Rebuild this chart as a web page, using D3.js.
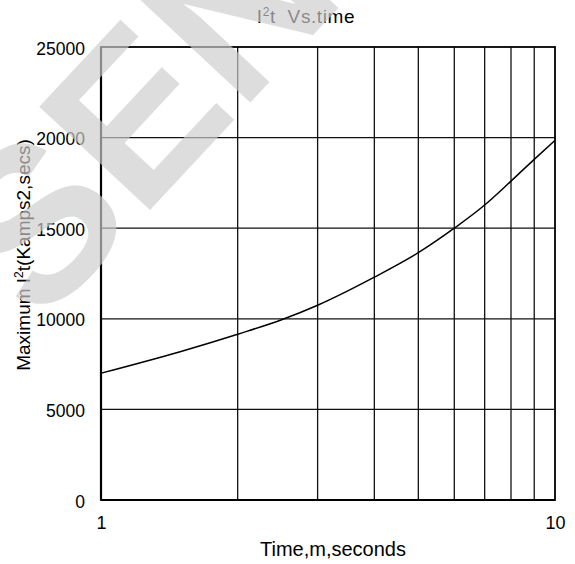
<!DOCTYPE html>
<html><head><meta charset="utf-8">
<script src="https://cdn.jsdelivr.net/npm/d3@7"></script>
<style>body{margin:0;background:#fff} svg{display:block} text{font-family:"Liberation Sans",Arial,sans-serif; white-space:pre}</style>
</head><body><svg id="c" width="575" height="564"></svg>
<script>
const timeSec = [1, 1.5, 2, 2.5, 3, 4, 5, 6, 7, 8, 9, 10];
const maxI2t = [7000, 8200, 9150, 9950, 10750, 12300, 13650, 15000, 16280, 17600, 18800, 19850];
const xTickLabels = [1, 10];
const xGridValues = [2, 3, 4, 5, 6, 7, 8, 9];
const yTickValues = [0, 5000, 10000, 15000, 20000, 25000];
const titleText = ["I", "2", "t  Vs.time"];
const xLabel = "Time,m,seconds";
const yLabelParts = ["Maximum I", "2", "t(Kamps2,secs)"];
const watermark = "SEN";

const svg = d3.select("#c");
const W = 575, H = 564;
const m = {l: 101, r: 20, t: 47, b: 64};
const x = d3.scaleLog().domain([1, 10]).range([m.l, W - m.r]);
const y = d3.scaleLinear().domain([0, 25000]).range([H - m.b, m.t]);

const g = svg.append("g");
// grid
g.selectAll(".vg").data(xGridValues).join("line")
  .attr("x1", d => x(d)).attr("x2", d => x(d))
  .attr("y1", y(0)).attr("y2", y(25000))
  .attr("stroke", "#111").attr("stroke-width", 1.3);
g.selectAll(".hg").data(yTickValues.slice(1, -1)).join("line")
  .attr("x1", x(1)).attr("x2", x(10))
  .attr("y1", d => y(d)).attr("y2", d => y(d))
  .attr("stroke", "#111").attr("stroke-width", 1.3);
// frame
g.append("rect").attr("x", x(1)).attr("y", y(25000))
  .attr("width", x(10) - x(1)).attr("height", y(0) - y(25000))
  .attr("fill", "none").attr("stroke", "#000").attr("stroke-width", 1.8);
g.append("line").attr("x1", x(1)).attr("x2", x(1)).attr("y1", y(0)).attr("y2", y(25000)).attr("stroke", "#000").attr("stroke-width", 2.2);
g.append("line").attr("x1", x(1)).attr("x2", x(10)).attr("y1", y(0)).attr("y2", y(0)).attr("stroke", "#000").attr("stroke-width", 2.2);

// curve
const pts = timeSec.map((t, i) => ({t, v: maxI2t[i]}));
g.append("path").datum(pts)
  .attr("d", d3.line().x(d => x(d.t)).y(d => y(d.v)).curve(d3.curveMonotoneX))
  .attr("fill", "none").attr("stroke", "#000").attr("stroke-width", 1.5);

// y ticks
const yAxis = d3.axisLeft(y).tickValues(yTickValues).tickSize(0).tickPadding(16).tickFormat(d3.format("d"));
const ya = svg.append("g").attr("transform", `translate(${x(1)},0)`).call(yAxis);
ya.select(".domain").remove();
ya.selectAll("text").attr("font-size", 17.5).attr("fill", "#000").attr("font-family", '"Liberation Sans",Arial,sans-serif').attr("dy", "0.4em");
// x ticks
const xAxis = d3.axisBottom(x).tickValues(xTickLabels).tickSize(0).tickPadding(16).tickFormat(d3.format("d"));
const xa = svg.append("g").attr("transform", `translate(0,${y(0)})`).call(xAxis);
xa.select(".domain").remove();
xa.selectAll("text").attr("font-size", 18).attr("fill", "#000").attr("font-family", '"Liberation Sans",Arial,sans-serif');

// title
const tt = svg.append("text").attr("x", 306).attr("y", 23).attr("text-anchor", "middle").attr("font-size", 19).attr("letter-spacing", 0.6).attr("fill", "#000");
tt.append("tspan").text(titleText[0]);
tt.append("tspan").attr("font-size", 12).attr("dy", -7).text(titleText[1]);
tt.append("tspan").attr("dy", 7).text(titleText[2]);

// x label
svg.append("text").attr("x", 333).attr("y", 556).attr("text-anchor", "middle").attr("font-size", 20).attr("fill", "#000").text(xLabel);

// y label
const yl = svg.append("text").attr("transform", "translate(30,255) rotate(-90)").attr("text-anchor", "middle").attr("font-size", 19).attr("fill", "#000");
yl.append("tspan").text(yLabelParts[0]);
yl.append("tspan").attr("font-size", 12).attr("dy", -7).text(yLabelParts[1]);
yl.append("tspan").attr("dy", 7).text(yLabelParts[2]);

// watermark overlay
svg.append("text").attr("transform", "translate(40,328) rotate(-47)")
  .attr("font-size", 220).attr("font-weight", "bold")
  .attr("fill", "rgb(205,205,205)").attr("fill-opacity", 0.67)
  .text(watermark);
</script></body></html>
